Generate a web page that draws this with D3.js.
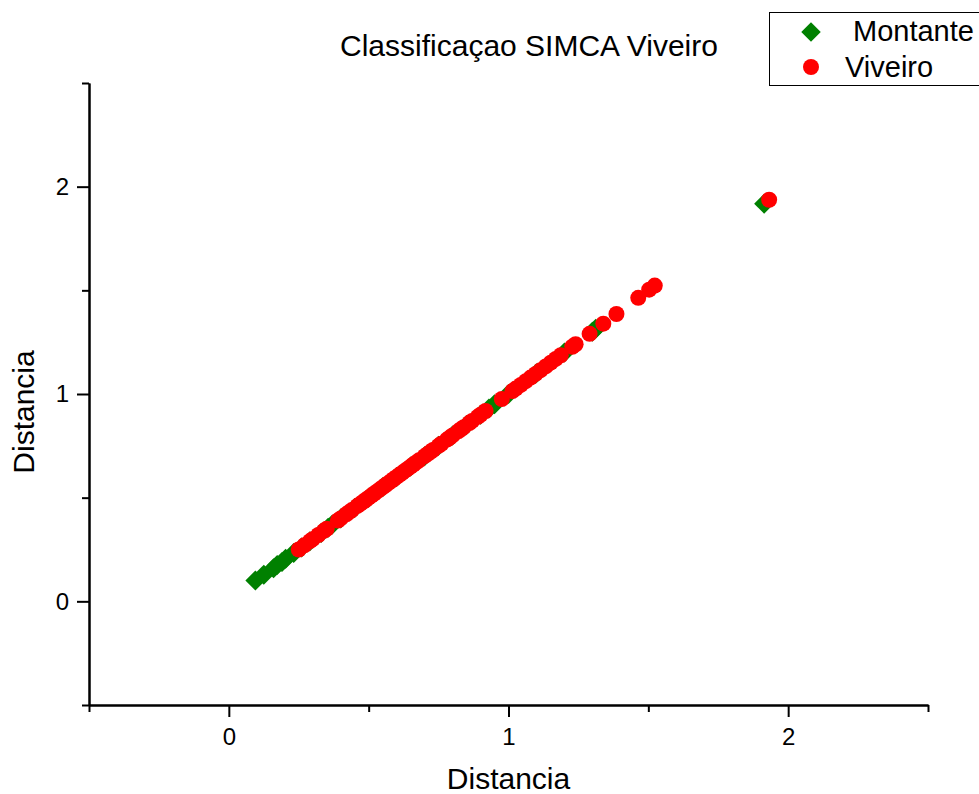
<!DOCTYPE html>
<html>
<head>
<meta charset="utf-8">
<script src="https://cdn.jsdelivr.net/npm/d3@7/dist/d3.min.js"></script>
<style>
  html, body { margin: 0; padding: 0; background: #fff; }
  svg { display: block; font-family: "Liberation Sans", Arial, sans-serif; }
</style>
</head>
<body>
<svg id="chart" width="979" height="794"></svg>
<script>
// Series: SIMCA distances, one point per sample
const montanteX = [0.095, 0.125, 0.16, 0.173, 0.19, 0.203, 0.232, 0.26, 0.29, 0.33, 0.355, 0.37, 0.40, 0.45, 0.50, 0.55, 0.60, 0.65, 0.70, 0.75, 0.80, 0.85, 0.90, 0.93, 0.95, 1.00, 1.10, 1.20, 1.30, 1.312, 1.914];
const montanteY = [0.100, 0.128, 0.16, 0.175, 0.19, 0.205, 0.233, 0.26, 0.29, 0.33, 0.355, 0.37, 0.40, 0.45, 0.50, 0.55, 0.60, 0.65, 0.70, 0.75, 0.80, 0.85, 0.90, 0.93, 0.95, 1.00, 1.10, 1.20, 1.30, 1.315, 1.918];
const viveiroX = [0.25, 0.27, 0.29, 0.30, 0.32, 0.34, 0.35, 0.39, 0.40, 0.42, 0.43, 0.44, 0.46, 0.47, 0.48, 0.49, 0.50, 0.51, 0.52, 0.53, 0.54, 0.55, 0.56, 0.57, 0.58, 0.59, 0.60, 0.61, 0.62, 0.63, 0.64, 0.65, 0.66, 0.67, 0.68, 0.70, 0.71, 0.72, 0.73, 0.75, 0.76, 0.78, 0.79, 0.80, 0.82, 0.83, 0.84, 0.86, 0.87, 0.89, 0.90, 0.918, 0.976, 1.014, 1.026, 1.044, 1.062, 1.079, 1.097, 1.115, 1.133, 1.151, 1.169, 1.187, 1.228, 1.24, 1.29, 1.339, 1.386, 1.464, 1.503, 1.523, 1.932];
const viveiroY = [0.25, 0.27, 0.29, 0.30, 0.32, 0.34, 0.35, 0.39, 0.40, 0.42, 0.43, 0.44, 0.46, 0.47, 0.48, 0.49, 0.50, 0.51, 0.52, 0.53, 0.54, 0.55, 0.56, 0.57, 0.58, 0.59, 0.60, 0.61, 0.62, 0.63, 0.64, 0.65, 0.66, 0.67, 0.68, 0.70, 0.71, 0.72, 0.73, 0.75, 0.76, 0.78, 0.79, 0.80, 0.82, 0.83, 0.84, 0.86, 0.87, 0.89, 0.90, 0.918, 0.976, 1.014, 1.026, 1.044, 1.062, 1.079, 1.097, 1.115, 1.133, 1.151, 1.169, 1.187, 1.228, 1.24, 1.29, 1.339, 1.386, 1.464, 1.503, 1.523, 1.937];

const seriesNames = ["Montante", "Viveiro"];
const seriesColors = ["#008000", "#ff0000"];
const majorTicks = [0, 1, 2];
const minorTicks = [-0.5, 0.5, 1.5, 2.5];
const titleText = "Classificaçao SIMCA Viveiro";
const xTitle = "Distancia";
const yTitle = "Distancia";

const svg = d3.select("#chart");
const plot = { left: 89, right: 928, top: 83, bottom: 705 };

const x = d3.scaleLinear().domain([-0.5, 2.5]).range([plot.left, plot.right]);
const y = d3.scaleLinear().domain([-0.5, 2.5]).range([plot.bottom, plot.top]);

// Points: Montante first, Viveiro drawn on top
const diamond = d3.symbol().type(d3.symbolSquare).size(200);
svg.append("g")
  .selectAll("path")
  .data(montanteX.map((v, i) => [v, montanteY[i]]))
  .join("path")
  .attr("d", diamond)
  .attr("transform", d => `translate(${x(d[0])},${y(d[1])}) rotate(45)`)
  .attr("fill", seriesColors[0]);

svg.append("g")
  .selectAll("circle")
  .data(viveiroX.map((v, i) => [v, viveiroY[i]]))
  .join("circle")
  .attr("cx", d => x(d[0]))
  .attr("cy", d => y(d[1]))
  .attr("r", 8)
  .attr("fill", seriesColors[1]);

// Axes
function styleAxis(g) {
  g.attr("font-size", null).attr("font-family", null);
  g.selectAll("path.domain").attr("stroke", "#000").attr("stroke-width", 2);
  g.selectAll(".tick line").attr("stroke", "#000").attr("stroke-width", 2);
  g.selectAll(".tick text").attr("fill", "#000").style("font-size", "24px")
    .style("font-family", "'Liberation Sans', Arial, sans-serif");
}

const xMajor = svg.append("g").attr("transform", `translate(0,${plot.bottom})`)
  .call(d3.axisBottom(x).tickValues(majorTicks).tickFormat(d3.format("d"))
    .tickSize(12).tickSizeOuter(0).tickPadding(11));
styleAxis(xMajor);
const xMinor = svg.append("g").attr("transform", `translate(0,${plot.bottom})`)
  .call(d3.axisBottom(x).tickValues(minorTicks).tickFormat("").tickSize(7).tickSizeOuter(0));
styleAxis(xMinor);

const yMajor = svg.append("g").attr("transform", `translate(${plot.left},0)`)
  .call(d3.axisLeft(y).tickValues(majorTicks).tickFormat(d3.format("d"))
    .tickSize(12).tickSizeOuter(0).tickPadding(8));
styleAxis(yMajor);
const yMinor = svg.append("g").attr("transform", `translate(${plot.left},0)`)
  .call(d3.axisLeft(y).tickValues(minorTicks).tickFormat("").tickSize(7).tickSizeOuter(0));
styleAxis(yMinor);

// Titles
svg.append("text")
  .attr("x", 529).attr("y", 56)
  .attr("text-anchor", "middle")
  .attr("font-size", 30)
  .text(titleText);

svg.append("text")
  .attr("x", x(1)).attr("y", 789)
  .attr("text-anchor", "middle")
  .attr("font-size", 30)
  .text(xTitle);

svg.append("text")
  .attr("transform", "translate(34,412) rotate(-90)")
  .attr("text-anchor", "middle")
  .attr("font-size", 30)
  .text(yTitle);

// Legend
const legend = svg.append("g");
legend.append("rect")
  .attr("x", 769.5).attr("y", 12.5)
  .attr("width", 230).attr("height", 73)
  .attr("fill", "#fff").attr("stroke", "#000").attr("stroke-width", 1);

legend.append("path")
  .attr("d", d3.symbol().type(d3.symbolSquare).size(190)())
  .attr("transform", "translate(811,32) rotate(45)")
  .attr("fill", seriesColors[0]);
legend.append("text")
  .attr("x", 853).attr("y", 41)
  .attr("font-size", 29)
  .text(seriesNames[0]);

legend.append("circle")
  .attr("cx", 811).attr("cy", 67).attr("r", 8)
  .attr("fill", seriesColors[1]);
legend.append("text")
  .attr("x", 845).attr("y", 77)
  .attr("font-size", 29)
  .text(seriesNames[1]);
</script>
</body>
</html>
